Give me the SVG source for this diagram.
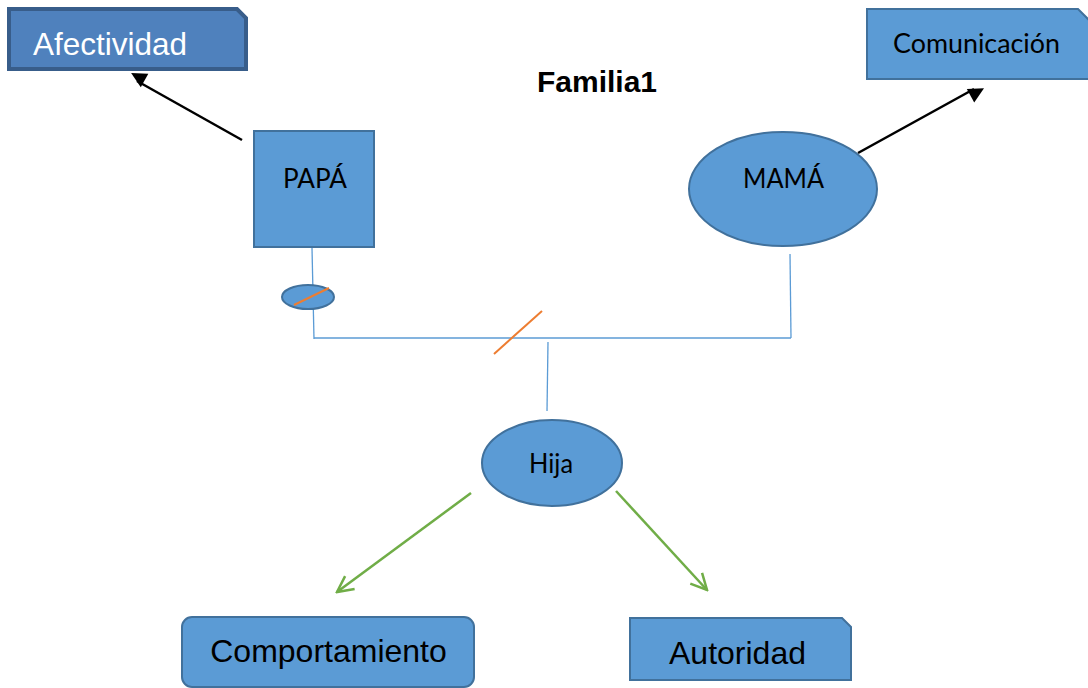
<svg xmlns="http://www.w3.org/2000/svg" width="1088" height="688" viewBox="0 0 1088 688">
<style>
.box{fill:#5b9bd5;stroke:#41719c;stroke-width:2}
.arial{font-family:"Liberation Sans",Arial,sans-serif}
.cal{font-family:Lato,"Open Sans",sans-serif;font-size:27px}
.thin{stroke:#5b9bd5;stroke-width:1.3;fill:none}
.orange{stroke:#ed7d31;stroke-width:2;fill:none}
.green{stroke:#70ad47;stroke-width:2.5;fill:none}
.black{stroke:#000;stroke-width:2.5;fill:none}
</style>
<defs>
<marker id="blk" viewBox="0 0 10 10" refX="9" refY="5" markerWidth="7" markerHeight="7" markerUnits="userSpaceOnUse" orient="auto" overflow="visible">
<path d="M0,0 L10,5 L0,10 z" fill="#000" transform="scale(2.2)"/>
</marker>
<marker id="grn" viewBox="0 0 20 20" refX="18" refY="10" markerWidth="20" markerHeight="20" markerUnits="userSpaceOnUse" orient="auto">
<path d="M2,2 L18,10 L2,18" fill="none" stroke="#70ad47" stroke-width="2.5"/>
</marker>
</defs>
<g id="title"><text class="arial" x="597" y="92" font-size="30" font-weight="bold" text-anchor="middle">Familia1</text></g>
<g id="afectividad">
<path d="M9,9 H237 L246,18 V69 H9 Z" fill="#4f81bd" stroke="#385d8a" stroke-width="4"/>
<text class="arial" x="33" y="55" font-size="31.5" fill="#fff">Afectividad</text>
</g>
<g id="comunicacion">
<path d="M867,9 H1078 L1090,21 V79 H867 Z" class="box"/>
<text class="cal" x="893" y="53" textLength="167" lengthAdjust="spacingAndGlyphs">Comunicación</text>
</g>
<g id="papa">
<rect x="254" y="131" width="120" height="116" class="box"/>
<text class="cal" x="283" y="188" textLength="64" lengthAdjust="spacingAndGlyphs">PAPÁ</text>
</g>
<g id="mama">
<ellipse cx="783" cy="189" rx="94" ry="57" class="box"/>
<text class="cal" x="743" y="188" textLength="81" lengthAdjust="spacingAndGlyphs">MAMÁ</text>
</g>
<g id="hija">
<ellipse cx="552" cy="463" rx="70" ry="43" class="box"/>
<text class="cal" x="529" y="473" textLength="44" lengthAdjust="spacingAndGlyphs">Hija</text>
</g>
<g id="comportamiento">
<rect x="182" y="617" width="292" height="70" rx="10" class="box"/>
<text class="arial" x="328.5" y="662" font-size="32" text-anchor="middle">Comportamiento</text>
</g>
<g id="autoridad">
<path d="M630,618 H842 L851,627 V680 H630 Z" class="box"/>
<text class="arial" x="737.5" y="664" font-size="32" text-anchor="middle">Autoridad</text>
</g>
<g id="connectors">
<line x1="312" y1="248" x2="314" y2="339" class="thin"/>
<ellipse cx="308" cy="297" rx="26" ry="12" class="box"/>
<line x1="294" y1="305" x2="329" y2="288" class="orange"/>
<line x1="314" y1="338" x2="791" y2="338" class="thin"/>
<line x1="790" y1="254" x2="791" y2="338" class="thin"/>
<line x1="548" y1="342" x2="547" y2="411" class="thin"/>
<line x1="494" y1="354" x2="542" y2="311" class="orange"/>
<line x1="242" y1="140" x2="137" y2="81" class="black" marker-end="url(#blk)"/>
<line x1="858" y1="153" x2="974" y2="89" class="black" marker-end="url(#blk)"/>
<line x1="471" y1="493" x2="337" y2="592" class="green" marker-end="url(#grn)"/>
<line x1="616" y1="491" x2="707" y2="590" class="green" marker-end="url(#grn)"/>
</g>
</svg>
